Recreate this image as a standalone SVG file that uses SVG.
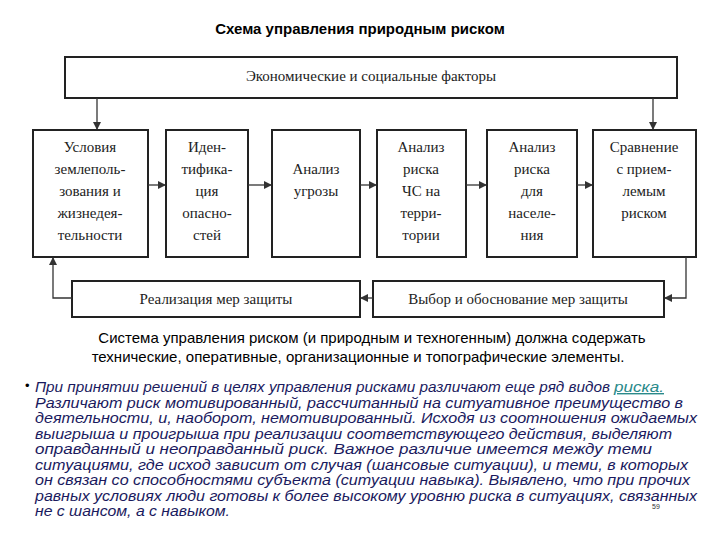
<svg xmlns="http://www.w3.org/2000/svg" width="720" height="540" viewBox="0 0 720 540">
<style>
.b{fill:#fff;stroke:#222;stroke-width:2}
.t{font-family:"Liberation Serif",serif;font-size:15px;fill:#222;text-anchor:middle}
.c{fill:none;stroke:#333;stroke-width:1.3}
.p{font-family:"Liberation Sans",sans-serif;font-size:15px;fill:#000;text-anchor:middle}
.i{font-family:"Liberation Sans",sans-serif;font-size:14px;font-style:italic;fill:#1a1a5e}
</style>
<defs><marker id="a" markerWidth="8" markerHeight="8" refX="7" refY="4" orient="auto" markerUnits="userSpaceOnUse"><path d="M0,0L8,4L0,8z" fill="#333"/></marker></defs>
<rect width="720" height="540" fill="#fff"/>
<text x="360" y="34" font-family="Liberation Sans,sans-serif" font-size="15" font-weight="bold" text-anchor="middle">Схема управления природным риском</text>
<g id="top"><rect class="b" x="65" y="57" width="612" height="41"/><text class="t" x="371" y="81">Экономические и социальные факторы</text></g>
<g id="n1"><rect class="b" x="33" y="130" width="115" height="127"/><text class="t"><tspan x="90" y="152">Условия</tspan><tspan x="90" y="174">землеполь-</tspan><tspan x="90" y="196">зования и</tspan><tspan x="90" y="218">жизнедея-</tspan><tspan x="90" y="240">тельности</tspan></text></g>
<g id="n2"><rect class="b" x="166" y="130" width="82" height="127"/><text class="t"><tspan x="207" y="152">Иден-</tspan><tspan x="207" y="174">тифика-</tspan><tspan x="207" y="196">ция</tspan><tspan x="207" y="218">опасно-</tspan><tspan x="207" y="240">стей</tspan></text></g>
<g id="n3"><rect class="b" x="272" y="130" width="88" height="127"/><text class="t"><tspan x="316" y="174">Анализ</tspan><tspan x="316" y="196">угрозы</tspan></text></g>
<g id="n4"><rect class="b" x="377" y="130" width="89" height="127"/><text class="t"><tspan x="421" y="152">Анализ</tspan><tspan x="421" y="174">риска</tspan><tspan x="421" y="196">ЧС на</tspan><tspan x="421" y="218">терри-</tspan><tspan x="421" y="240">тории</tspan></text></g>
<g id="n5"><rect class="b" x="487" y="130" width="90" height="127"/><text class="t"><tspan x="532" y="152">Анализ</tspan><tspan x="532" y="174">риска</tspan><tspan x="532" y="196">для</tspan><tspan x="532" y="218">населе-</tspan><tspan x="532" y="240">ния</tspan></text></g>
<g id="n6"><rect class="b" x="593" y="130" width="103" height="127"/><text class="t"><tspan x="644" y="152">Сравнение</tspan><tspan x="644" y="174">с прием-</tspan><tspan x="644" y="196">лемым</tspan><tspan x="644" y="218">риском</tspan></text></g>
<g id="b1"><rect class="b" x="72" y="281" width="288" height="36"/><text class="t" x="216" y="304">Реализация мер защиты</text></g>
<g id="b2"><rect class="b" x="373" y="281" width="291" height="36"/><text class="t" x="518" y="304">Выбор и обоснование мер защиты</text></g>
<g id="connectors">
<path class="c" d="M97,98V129" marker-end="url(#a)"/>
<path class="c" d="M653,98V129" marker-end="url(#a)"/>
<path class="c" d="M148,185H165" marker-end="url(#a)"/>
<path class="c" d="M248,185H271" marker-end="url(#a)"/>
<path class="c" d="M360,185H376" marker-end="url(#a)"/>
<path class="c" d="M466,185H486" marker-end="url(#a)"/>
<path class="c" d="M577,185H592" marker-end="url(#a)"/>
<path class="c" d="M686,257V298H665" marker-end="url(#a)"/>
<path class="c" d="M373,298H361" marker-end="url(#a)"/>
<path class="c" d="M72,298H53V258" marker-end="url(#a)"/>
</g>
<text class="p" x="372" y="343">Система управления риском (и природным и техногенным) должна содержать</text>
<text class="p" x="358" y="362">технические, оперативные, организационные и топографические элементы.</text>
<text x="25" y="390" font-family="Liberation Sans,sans-serif" font-size="13">•</text>
<text class="i" x="35" y="392" textLength="575" lengthAdjust="spacingAndGlyphs">При принятии решений в целях управления рисками различают еще ряд видов</text>
<text class="i" x="614" y="392" style="fill:#2a8a8a" text-decoration="underline" textLength="50" lengthAdjust="spacingAndGlyphs">риска.</text>
<text class="i" x="35" y="407.5" textLength="648" lengthAdjust="spacingAndGlyphs">Различают риск мотивированный, рассчитанный на ситуативное преимущество в</text>
<text class="i" x="35" y="423" textLength="662" lengthAdjust="spacingAndGlyphs">деятельности, и, наоборот, немотивированный. Исходя из соотношения ожидаемых</text>
<text class="i" x="35" y="438.5" textLength="637" lengthAdjust="spacingAndGlyphs">выигрыша и проигрыша при реализации соответствующего действия, выделяют</text>
<text class="i" x="35" y="454" textLength="617" lengthAdjust="spacingAndGlyphs">оправданный и неоправданный риск. Важное различие имеется между теми</text>
<text class="i" x="35" y="469.5" textLength="653" lengthAdjust="spacingAndGlyphs">ситуациями, где исход зависит от случая (шансовые ситуации), и теми, в которых</text>
<text class="i" x="35" y="485" textLength="655" lengthAdjust="spacingAndGlyphs">он связан со способностями субъекта (ситуации навыка). Выявлено, что при прочих</text>
<text class="i" x="35" y="500.5" textLength="662" lengthAdjust="spacingAndGlyphs">равных условиях люди готовы к более высокому уровню риска в ситуациях, связанных</text>
<text class="i" x="35" y="516" textLength="195" lengthAdjust="spacingAndGlyphs">не с шансом, а с навыком.</text>
<text x="652" y="509" font-family="Liberation Sans,sans-serif" font-size="7" fill="#333">59</text>
</svg>
